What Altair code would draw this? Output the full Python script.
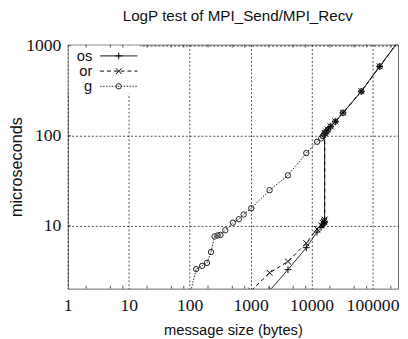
import altair as alt
import pandas as pd

names = ["os", "or", "g"]

os_size = [2048, 4096, 8192, 12288, 14336, 15360, 15872, 16128, 16384, 16384,
           17408, 18432, 20480, 24576, 32768, 65536, 131072, 262144]
os_us = [1.9, 3.25, 5.7, 8.5, 9.6, 10.2, 10.6, 10.9, 11.2, 106,
         110, 116, 126, 143, 179, 310, 586, 1100]

or_size = [1024, 2048, 4096, 8192, 12288, 14336, 15360, 15872, 16128, 16384, 16384,
           17408, 18432, 20480, 24576, 32768, 65536, 131072, 262144]
or_us = [1.9, 3.0, 4.0, 6.4, 9.2, 10.1, 10.7, 11.0, 11.3, 11.7, 107,
         111, 117, 127, 144, 180, 311, 588, 1100]

g_size = [96, 128, 160, 192, 224, 256, 288, 320, 384, 512, 640, 768, 1024, 2048,
          4096, 8192, 12288, 14336, 15360, 16000, 16384, 17408, 18432, 20480,
          24576, 32768, 65536, 131072, 262144]
g_us = [1.5, 3.3, 3.58, 3.86, 5.1, 7.6, 7.8, 7.9, 8.9, 10.8, 11.8, 13.3, 15.6, 24.8,
        36.2, 64, 85.5, 93, 99, 103, 106, 110, 116, 126,
        143, 179, 310, 586, 1100]

x_ticks = [1, 10, 100, 1000, 10000, 100000]
x_minor = [m * 10 ** k for k in range(6) for m in (2, 5, 8) if m * 10 ** k <= 262144]
y_ticks = [10, 100, 1000]

title = "LogP test of MPI_Send/MPI_Recv"
x_title = "message size (bytes)"
y_title = "microseconds"

W, H = 337, 249
FONT = "Liberation Sans"
NARROW = "Liberation Sans Narrow"

plus_path = "M-1,0L1,0M0,-1L0,1"
x_path = "M-1,-1L1,1M-1,1L1,-1"

series = [
    dict(name="os", size=os_size, us=os_us, dash=[1, 0], shape=plus_path, msize=49, color="#000"),
    dict(name="or", size=or_size, us=or_us, dash=[4, 3], shape=x_path, msize=36, color="#000"),
    dict(name="g", size=g_size, us=g_us, dash=[1.5, 1.5], shape="circle", msize=30, color="#222"),
]

xs = alt.Scale(type="log", domain=[1, 262144], nice=False)
ys = alt.Scale(type="log", domain=[2, 1024], nice=False)

X = alt.X("size:Q", scale=xs, title=x_title,
          axis=alt.Axis(values=x_ticks, format="d", grid=True, ticks=False, domain=False,
                        labelPadding=8, titlePadding=9, labelFlush=False,
                        titleFontSize=15))
Y = alt.Y("us:Q", scale=ys, title=y_title,
          axis=alt.Axis(values=y_ticks, format="d", grid=True, ticks=False, domain=False,
                        labelPadding=7, titleFontSize=16.5, titleX=-52, titleY=H / 2,
                        titleAngle=270, titleAlign="center", titleBaseline="middle"))

layers = []

# legend background (covers grid lines)
bg = alt.Chart(pd.DataFrame({"a": [0]})).mark_rect(fill="white").encode(
    x=alt.value(1), x2=alt.value(74), y=alt.value(1), y2=alt.value(50))

# tick marks (inward)
xt = pd.DataFrame({"size": x_minor})
tick_bottom = alt.Chart(xt).mark_rule(color="#555").encode(
    x=alt.X("size:Q", scale=xs), y=alt.value(H), y2=alt.value(H - 3))
tick_top = alt.Chart(xt).mark_rule(color="#555").encode(
    x=alt.X("size:Q", scale=xs), y=alt.value(0), y2=alt.value(3))
yt = pd.DataFrame({"us": y_ticks})
tick_left = alt.Chart(yt).mark_rule(color="#555").encode(
    y=alt.Y("us:Q", scale=ys), x=alt.value(0), x2=alt.value(3))

first = True
for i, s in enumerate(series):
    df = pd.DataFrame({"size": s["size"], "us": s["us"], "idx": range(len(s["size"]))})
    enc_x = X if first else alt.X("size:Q", scale=xs)
    enc_y = Y if first else alt.Y("us:Q", scale=ys)
    first = False
    line = alt.Chart(df).mark_line(clip=True, color=s["color"], strokeWidth=1,
                                   strokeDash=s["dash"]).encode(
        x=enc_x, y=enc_y, order="idx:Q")
    pts = alt.Chart(df).mark_point(clip=True, filled=False, color=s["color"], strokeWidth=1,
                                   shape=s["shape"], size=s["msize"], opacity=1).encode(
        x=alt.X("size:Q", scale=xs), y=alt.Y("us:Q", scale=ys))
    layers += [line, pts]

leg = []
for i, s in enumerate(series):
    yy = 11.5 + 15.5 * i
    one = pd.DataFrame({"name": [s["name"]]})
    leg.append(alt.Chart(one).mark_text(align="right", baseline="middle", font=FONT,
                                        fontSize=15, color="#111").encode(
        text="name:N", x=alt.value(25), y=alt.value(yy)))
    leg.append(alt.Chart(one).mark_rule(color=s["color"], strokeWidth=1,
                                        strokeDash=s["dash"]).encode(
        x=alt.value(33), x2=alt.value(71), y=alt.value(yy)))
    leg.append(alt.Chart(one).mark_point(filled=False, color=s["color"], strokeWidth=1,
                                         shape=s["shape"], size=s["msize"], opacity=1).encode(
        x=alt.value(52), y=alt.value(yy)))

chart = alt.layer(layers[0], bg, tick_bottom, tick_top, tick_left, *layers[1:], *leg).properties(
    width=W, height=H,
    background="white",
    title=alt.TitleParams(title, font=FONT, fontSize=15.5, fontWeight="normal", color="#111",
                          anchor="middle", dx=5, offset=13),
    autosize=alt.AutoSizeParams(type="none"),
    padding={"left": 61, "top": 34, "right": 2, "bottom": 48},
).configure_view(stroke="#666", strokeWidth=1).configure_axis(
    labelFont=NARROW, labelFontSize=18, labelColor="#111",
    titleFont=FONT, titleFontWeight="normal", titleColor="#111",
    gridColor="#000", gridDash=[2, 2], gridOpacity=0.7, gridWidth=1,
)

chart.save("out.html", embed_options={"renderer": "svg", "actions": False})
